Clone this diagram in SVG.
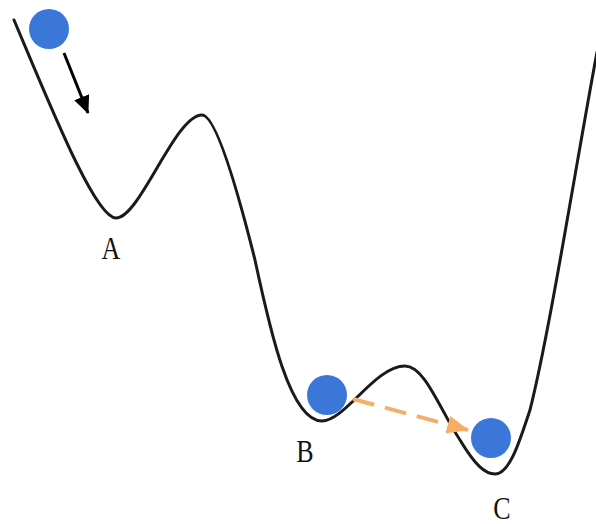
<svg xmlns="http://www.w3.org/2000/svg" width="596" height="524" viewBox="0 0 596 524">
<style>
.curve{fill:none;stroke:#1a1a1a;stroke-width:3;stroke-linecap:round}
.ball{fill:#3b77d9}
.lbl{font-family:"Liberation Serif","Times New Roman",serif;font-size:26px;fill:#111;text-anchor:middle}
</style>
<defs>
<marker id="blk" markerUnits="userSpaceOnUse" markerWidth="18" markerHeight="16" refX="17" refY="8" orient="auto"><path d="M0,0 L18,8 L0,16 Z" fill="#000"/></marker>
<marker id="org" markerUnits="userSpaceOnUse" markerWidth="22" markerHeight="18" refX="21" refY="9" orient="auto"><path d="M0,0 L22,9 L0,18 Z" fill="#f4ae68"/></marker>
</defs>
<g id="landscape">
<path class="curve" d="M14,20 C50,105 95,218 116,218 C140,218 175,115 202,115 C215,115 235,180 255,260 C270,330 290,421 322,421 C345,421 375,366 405,366 C425,366 440,410 460,440 C475,465 485,474 495,474 C510,474 520,440 530,410 C550,330 575,170 597,52"/>
</g>
<g id="ball-start"><circle class="ball" cx="49" cy="29" r="20"/></g>
<g id="ball-b"><circle class="ball" cx="327" cy="395" r="20"/></g>
<g id="ball-c"><circle class="ball" cx="491" cy="438" r="20"/></g>
<g id="label-a"><text class="lbl" transform="translate(111,259) scale(1,1.22)">A</text></g>
<g id="label-b"><text class="lbl" transform="translate(305,461.5) scale(1,1.22)">B</text></g>
<g id="label-c"><text class="lbl" transform="translate(502,519) scale(1,1.18)">C</text></g>
<g id="connectors">
<line x1="64" y1="53" x2="88" y2="113" stroke="#000" stroke-width="3" marker-end="url(#blk)"/>
<line x1="353" y1="399" x2="468" y2="430" stroke="#f4ae68" stroke-width="4" stroke-dasharray="22 11" marker-end="url(#org)"/>
</g>
</svg>
